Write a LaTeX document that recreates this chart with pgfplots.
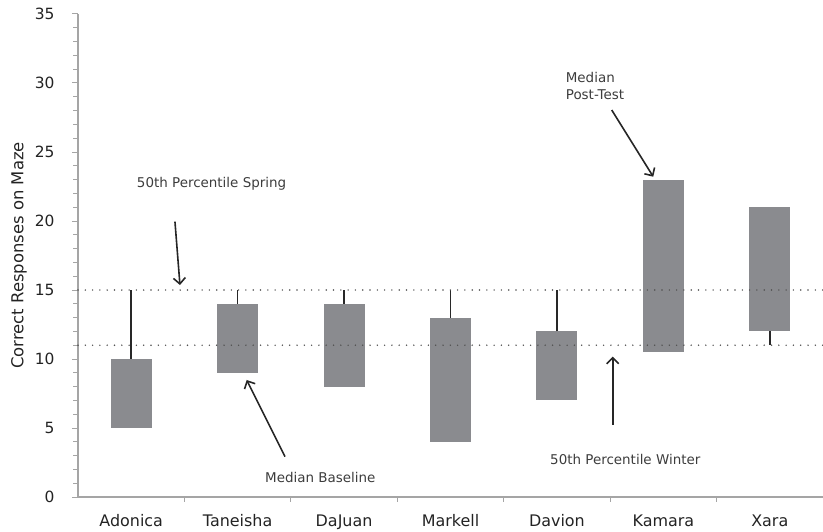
\documentclass[border=0pt]{standalone}
\usepackage{fontspec}
\setmainfont{DejaVu Sans}
\usepackage{pgfplots}
\pgfplotsset{compat=1.18}
\usetikzlibrary{arrows.meta}
\definecolor{barc}{RGB}{138,139,143}
\definecolor{axc}{RGB}{165,165,165}
\definecolor{txt}{RGB}{35,35,35}
\definecolor{ann}{RGB}{60,60,60}
\definecolor{dotc}{RGB}{80,80,80}
\definecolor{wh}{RGB}{40,40,40}
\tikzset{arr/.style={-{Straight Barb[length=6bp,width=12bp]}, line width=1.6bp, color=black!85}}
\begin{document}
\begin{tikzpicture}
\begin{axis}[
  name=ax,
  width=745bp, height=483bp, scale only axis,
  xmin=-0.5, xmax=6.5, ymin=0, ymax=35,
  axis lines*=left,
  axis line style={axc, line width=1.3bp, -},
  xtick={0,...,6},
  xticklabels={Adonica,Taneisha,DaJuan,Markell,Davion,Kamara,Xara},
  minor xtick={0.5,1.5,...,5.5},
  major x tick style={draw=none},
  ytick={0,5,...,35},
  minor y tick num=4,
  tick align=outside,
  major tick length=6bp,
  minor tick length=4.5bp,
  tick style={axc, line width=1bp},
  tick label style={text=txt},
  xticklabel style={font=\fontsize{16}{19}\selectfont, yshift=-8bp},
  yticklabel style={font=\fontsize{15.5}{18}\selectfont, xshift=-14bp},
  /pgf/number format/assume math mode=true,
  ylabel={Correct Responses on Maze},
  every axis y label/.style={at={(rel axis cs:0,0.5)}, xshift=-59bp, rotate=90, anchor=center, font=\fontsize{16.5}{19}\selectfont, text=txt},
  clip=false,
]
% floating bars (low to high)
\addplot[fill=barc, draw=none] coordinates {(-0.193,5) (0.193,5) (0.193,10) (-0.193,10)};
\addplot[fill=barc, draw=none] coordinates {(0.807,9) (1.193,9) (1.193,14) (0.807,14)};
\addplot[fill=barc, draw=none] coordinates {(1.807,8) (2.193,8) (2.193,14) (1.807,14)};
\addplot[fill=barc, draw=none] coordinates {(2.807,4) (3.193,4) (3.193,13) (2.807,13)};
\addplot[fill=barc, draw=none] coordinates {(3.807,7) (4.193,7) (4.193,12) (3.807,12)};
\addplot[fill=barc, draw=none] coordinates {(4.807,10.5) (5.193,10.5) (5.193,23) (4.807,23)};
\addplot[fill=barc, draw=none] coordinates {(5.807,12) (6.193,12) (6.193,21) (5.807,21)};
% whiskers
\addplot[wh, line width=1.5bp] coordinates {(0,10) (0,15)};
\addplot[wh, line width=1.5bp] coordinates {(1,14) (1,15)};
\addplot[wh, line width=1.5bp] coordinates {(2,14) (2,15)};
\addplot[wh, line width=1.5bp] coordinates {(3,13) (3,15)};
\addplot[wh, line width=1.5bp] coordinates {(4,12) (4,15)};
\addplot[wh, line width=1.5bp] coordinates {(6,12) (6,11)};
% reference lines
\addplot[dotc, line width=1.6bp, dash pattern=on 0bp off 7.3bp, line cap=round] coordinates {(-0.5,15) (6.5,15)};
\addplot[dotc, line width=1.6bp, dash pattern=on 0bp off 7.3bp, line cap=round] coordinates {(-0.5,11) (6.5,11)};
% annotations
\node[anchor=west, inner sep=0pt, font=\fontsize{13.5}{16.5}\selectfont, text=ann] at (axis cs:0.052,22.73) {50th Percentile Spring};
\draw[arr] (axis cs:0.411,19.95) -- (axis cs:0.458,15.36);
\node[anchor=west, inner sep=0pt, font=\fontsize{13.5}{16.5}\selectfont, text=ann] at (axis cs:1.257,1.38) {Median Baseline};
\draw[arr] (axis cs:1.445,2.92) -- (axis cs:1.085,8.48);
\node[anchor=west, inner sep=0pt, font=\fontsize{13.5}{16.5}\selectfont, text=ann] at (axis cs:3.935,2.75) {50th Percentile Winter};
\draw[arr] (axis cs:4.524,5.22) -- (axis cs:4.524,10.17);
\node[anchor=west, inner sep=0pt, align=left, font=\fontsize{13.5}{16.6}\selectfont, text=ann] at (axis cs:4.082,29.78) {Median\\Post-Test};
\draw[arr] (axis cs:4.515,28.04) -- (axis cs:4.905,23.21);
\end{axis}
\pgfresetboundingbox
\path (ax.south west) ++(-78bp,-34bp) rectangle ([yshift=14bp]ax.north east);
\end{tikzpicture}
\end{document}
